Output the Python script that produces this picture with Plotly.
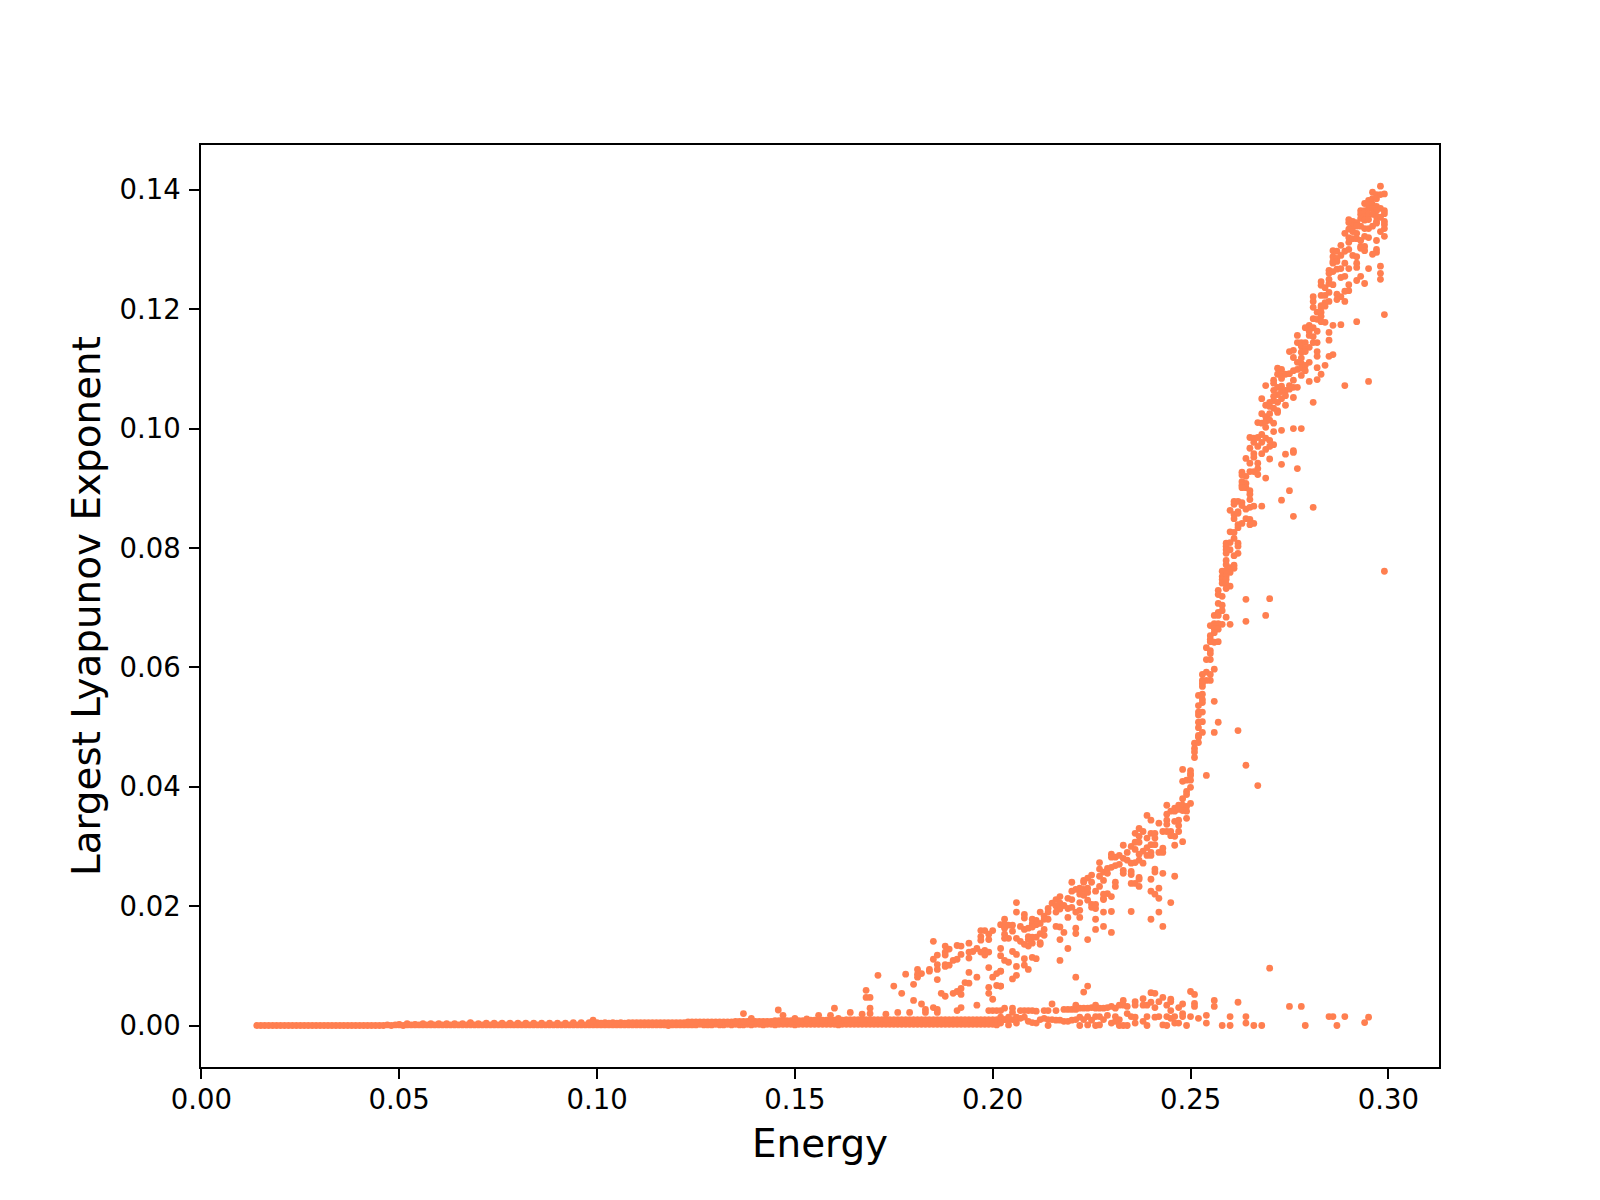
import plotly.graph_objects as go

# values as (energy, largest Lyapunov exponent)
top_band = [
    (.298,.1406),(.296,.1396),(.297,.1392),(.299,.1393),(.298,.1392),(.295,.1382),(.296,.1385),(.297,.1385),
    (.294,.1377),(.295,.1375),(.296,.1375),(.297,.1372),(.298,.1369),(.299,.1365),(.299,.1360),
    (.293,.1365),(.294,.1365),(.295,.1369),(.296,.1369),(.297,.1365),(.293,.1359),(.294,.1355),(.295,.1359),
    (.296,.1359),(.297,.1355),(.298,.1354),(.293,.1352),(.294,.1349),(.295,.1350),(.297,.1347),(.299,.1347),
    (.299,.1342),(.299,.1335),(.298,.1330),(.299,.1322),(.290,.1350),(.291,.1347),(.292,.1345),(.290,.1345),
    (.293,.1339),(.294,.1335),(.295,.1335),(.296,.1339),(.297,.1344),(.291,.1339),(.292,.1339),(.290,.1334),
    (.289,.1327),(.291,.1330),(.292,.1327),(.290,.1320),(.291,.1318),(.292,.1318),(.293,.1315),(.290,.1312),
    (.294,.1322),(.295,.1320),(.297,.1315),(.288,.1307),(.293,.1305),(.294,.1305),(.294,.1298),(.293,.1302),
    (.297,.1300),(.297,.1295),(.296,.1292),(.286,.1298),(.287,.1297),(.290,.1300),(.289,.1297),(.288,.1290),
    (.286,.1288),(.287,.1285),(.291,.1290),(.292,.1288),(.286,.1280),(.287,.1280),(.289,.1277),(.286,.1277),
    (.292,.1277),(.292,.1270),(.290,.1268),(.295,.1268),(.298,.1272),(.298,.1260),(.298,.1250),(.285,.1265),
    (.286,.1263),(.287,.1267),(.288,.1268),(.285,.1260),(.289,.1255),(.288,.1253),(.293,.1255),(.292,.1248),
    (.294,.1243),(.283,.1246),(.285,.1250),(.283,.1240),(.284,.1236),(.286,.1241),(.285,.1243),(.290,.1241),
    (.290,.1231),(.289,.1230),(.281,.1221),(.281,.1213),(.281,.1203),(.283,.1223),(.285,.1228),(.284,.1223),
    (.287,.1225),(.288,.1221),(.287,.1216),(.285,.1213),(.289,.1213),(.284,.1211),(.283,.1206),(.284,.1205),
    (.283,.1203),(.282,.1195),(.283,.1195),(.283,.1188),(.281,.1184),(.282,.1183),(.283,.1179),(.284,.1178),
    (.286,.1173),(.288,.1174),(.292,.1179),(.299,.1191),(.280,.1173),(.279,.1169),(.281,.1169),(.280,.1163),
    (.282,.1163),(.285,.1161),(.277,.1156),(.280,.1156),(.281,.1154),(.277,.1144),(.278,.1144),(.279,.1144),
    (.281,.1144),(.282,.1144),(.285,.1148),(.278,.1138),(.279,.1134),(.280,.1136),(.275,.1129),(.276,.1131),
    (.278,.1128),(.279,.1129),(.282,.1129),(.282,.1121),(.285,.1121),(.286,.1124),(.276,.1119),(.278,.1118),
    (.280,.1111),(.278,.1109),(.277,.1111),(.279,.1106),(.282,.1102),(.284,.1106),(.272,.1101),(.273,.1099),
    (.277,.1099),(.278,.1101),(.276,.1097),(.279,.1097),(.272,.1091),(.273,.1089),(.274,.1091),(.275,.1092),
    (.278,.1089),(.283,.1091),(.273,.1084),(.276,.1081),(.271,.1081),(.280,.1079),(.282,.1082),(.295,.1079),
    (.289,.1072),(.269,.1072),(.271,.1076),(.272,.1069),(.273,.1071),(.275,.1072),(.276,.1069),(.277,.1069),
    (.271,.1064),(.273,.1062),(.274,.1064),(.275,.1066),(.272,.1057),(.274,.1055),(.276,.1052),(.268,.1050),
    (.271,.1054),(.273,.1050),(.281,.1044),(.271,.1047),(.270,.1044),(.272,.1044),(.274,.1039),(.269,.1039),
    (.270,.1037),(.271,.1034),(.272,.1030),(.272,.1027),(.268,.1025),(.269,.1020),(.270,.1025),(.267,.1010),
    (.268,.1009),(.269,.1012),(.270,.1014),(.271,.1009),(.269,.1002),(.271,.0995),(.273,.0997),(.276,.1000),
    (.278,.1000),(.268,.0990),(.265,.0985),(.266,.0984),(.267,.0985),(.269,.0984),(.266,.0977),(.268,.0977),
    (.270,.0980),(.271,.0973),(.270,.0970),(.265,.0967),(.267,.0970),(.269,.0965),(.268,.0958),(.266,.0958),
    (.274,.0957),(.276,.0963),(.276,.0960),(.264,.0950),(.266,.0952),(.270,.0949),
]

steep_rise = [
    (.265,.0942),(.267,.0942),(.273,.0940),(.277,.0933),(.267,.0933),(.265,.0928),(.266,.0928),(.267,.0923),
    (.263,.0927),(.264,.0920),(.263,.0922),(.269,.0917),(.263,.0911),(.264,.0908),(.263,.0905),(.264,.0901),
    (.263,.0901),(.265,.0896),(.265,.0890),(.265,.0881),(.275,.0896),(.273,.0880),(.261,.0878),(.262,.0878),
    (.263,.0876),(.261,.0873),(.263,.0871),(.260,.0863),(.262,.0861),(.264,.0865),(.265,.0868),(.266,.0870),
    (.268,.0870),(.281,.0868),(.261,.0856),(.262,.0858),(.261,.0849),(.264,.0849),(.265,.0848),(.276,.0853),
    (.263,.0841),(.262,.0839),(.265,.0839),(.266,.0841),(.262,.0834),(.260,.0827),(.261,.0826),(.261,.0816),
    (.259,.0808),(.260,.0809),(.262,.0808),(.259,.0803),(.262,.0803),(.260,.0797),(.259,.0797),(.259,.0791),
    (.262,.0791),(.261,.0787),(.259,.0779),(.259,.0772),(.261,.0771),(.260,.0767),(.261,.0766),(.258,.0761),
    (.259,.0762),(.260,.0759),(.299,.0761),(.258,.0752),(.259,.0752),(.258,.0747),(.259,.0747),(.258,.0741),
    (.259,.0739),(.260,.0736),(.259,.0732),(.257,.0729),(.257,.0722),(.258,.0719),(.264,.0714),(.270,.0715),
    (.257,.0707),(.258,.0704),(.258,.0695),(.257,.0692),(.256,.0687),(.257,.0687),(.259,.0684),(.269,.0687),
    (.264,.0677),(.256,.0673),(.255,.0670),(.257,.0673),(.258,.0672),(.260,.0672),(.256,.0665),(.257,.0664),
    (.256,.0658),(.255,.0653),(.255,.0647),(.255,.0643),(.256,.0642),(.257,.0643),(.254,.0633),(.255,.0628),
    (.255,.0623),(.254,.0613),(.255,.0613),(.256,.0597),(.254,.0592),(.253,.0588),(.255,.0588),(.253,.0578),
    (.255,.0578),(.254,.0578),(.253,.0573),(.253,.0568),(.252,.0553),(.253,.0555),(.253,.0546),(.253,.0541),
    (.256,.0543),(.252,.0536),(.252,.0525),(.253,.0525),(.252,.0520),(.253,.0509),(.252,.0508),(.257,.0508),
    (.252,.0499),(.256,.0491),(.253,.0491),(.262,.0494),(.252,.0486),(.252,.0483),(.251,.0473),(.252,.0474),
    (.251,.0464),(.251,.0458),(.251,.0449),
]

knee_band = [
    (.248,.0429),(.250,.0427),(.250,.0422),(.250,.0419),(.254,.0419),(.264,.0436),(.267,.0402),(.248,.0409),
    (.249,.0411),(.250,.0411),(.250,.0399),(.249,.0392),(.249,.0387),(.248,.0380),(.244,.0369),(.250,.0372),
    (.247,.0369),(.248,.0369),(.249,.0367),(.246,.0364),(.245,.0359),(.244,.0354),(.246,.0359),(.247,.0362),
    (.248,.0360),(.249,.0359),(.239,.0352),(.240,.0344),(.249,.0347),(.242,.0339),(.244,.0344),(.246,.0342),
    (.247,.0344),(.244,.0337),(.247,.0335),(.237,.0330),(.236,.0322),(.238,.0325),(.240,.0322),(.241,.0322),
    (.243,.0325),(.244,.0325),(.245,.0325),(.247,.0325),(.245,.0318),(.246,.0317),(.237,.0317),(.239,.0314),
    (.241,.0314),(.236,.0307),(.237,.0307),(.235,.0300),(.236,.0295),(.240,.0303),(.241,.0303),(.248,.0308),
    (.246,.0302),(.233,.0302),(.243,.0297),(.234,.0290),(.239,.0298),(.238,.0292),(.242,.0290),(.243,.0290),
    (.237,.0287),(.239,.0285),(.240,.0285),(.240,.0290),(.230,.0287),(.230,.0282),(.231,.0282),(.232,.0285),
    (.233,.0280),(.234,.0277),(.227,.0273),(.235,.0272),(.236,.0273),(.237,.0277),(.238,.0272),(.232,.0270),
    (.231,.0268),(.230,.0265),(.229,.0263),(.227,.0262),(.228,.0257),(.229,.0255),(.227,.0250),(.233,.0260),
    (.233,.0255),(.235,.0258),(.235,.0253),(.241,.0262),(.241,.0257),(.243,.0255),(.246,.0250),(.237,.0248),
    (.237,.0245),(.240,.0245),(.228,.0243),(.220,.0240),(.225,.0252),(.224,.0247),(.223,.0243),(.223,.0240),
    (.225,.0240),(.231,.0240),(.231,.0233),(.235,.0238),(.236,.0238),(.237,.0233),(.227,.0233),(.242,.0230),
    (.240,.0225),(.241,.0220),(.242,.0213),(.245,.0206),(.220,.0225),(.221,.0228),(.222,.0230),(.223,.0228),
    (.224,.0230),(.226,.0225),(.229,.0221),(.228,.0220),(.228,.0213),(.230,.0216),(.217,.0216),(.216,.0211),
    (.219,.0213),(.220,.0211),(.222,.0220),(.223,.0218),(.224,.0223),(.222,.0206),(.224,.0210),(.225,.0203),
    (.226,.0203),(.225,.0198),(.226,.0196),(.228,.0211),(.215,.0205),(.217,.0205),(.218,.0201),(.216,.0200),
    (.217,.0195),(.219,.0196),(.220,.0198),(.216,.0190),(.222,.0193),(.221,.0190),(.228,.0190),(.230,.0191),
    (.235,.0191),(.242,.0190),(.206,.0206),(.206,.0190),(.208,.0186),(.208,.0180),(.212,.0190),(.214,.0196),
    (.214,.0190),(.213,.0183),(.214,.0178),(.213,.0178),(.219,.0181),(.222,.0181),(.226,.0178),(.240,.0178),
    (.203,.0178),(.210,.0178),(.211,.0176),(.210,.0171),(.211,.0169),(.212,.0171),(.208,.0161),(.207,.0166),
    (.209,.0163),(.210,.0165),(.216,.0166),(.217,.0165),(.218,.0156),(.221,.0163),(.221,.0154),(.226,.0161),
    (.228,.0166),(.230,.0156),(.243,.0166),(.202,.0169),(.203,.0169),(.204,.0168),(.205,.0168),(.203,.0163),
    (.205,.0158),(.203,.0153),(.204,.0146),(.203,.0146),(.213,.0161),(.212,.0154),(.213,.0151),(.209,.0149),
    (.210,.0148),(.209,.0144),(.211,.0148),(.206,.0146),(.207,.0141),(.208,.0136),(.209,.0133),(.210,.0138),
    (.212,.0139),(.212,.0136),(.217,.0144),(.224,.0144),(.205,.0124),(.206,.0119),(.202,.0129),(.202,.0117),
    (.203,.0109),(.204,.0106),(.208,.0112),(.210,.0114),(.211,.0112),(.219,.0129),(.217,.0109),(.206,.0099),
    (.208,.0101),(.209,.0094),(.202,.0091),(.206,.0084),(.205,.0078),(.202,.0066),(.221,.0081),(.224,.0066),
    (.223,.0056),(.270,.0096),
]

onset_scatter = [
    (.171,.0084),(.168,.0059),(.168,.0047),(.169,.0047),(.169,.0029),(.160,.0029),(.175,.0066),(.178,.0086),
    (.177,.0054),(.180,.0069),(.180,.0042),(.182,.0036),(.181,.0094),(.181,.0086),(.182,.0087),(.181,.0081),
    (.184,.0094),(.184,.0091),(.183,.0027),(.183,.0022),(.185,.0141),(.186,.0118),(.185,.0111),(.186,.0102),
    (.186,.0094),(.186,.0077),(.185,.0030),(.186,.0027),(.186,.0022),(.188,.0133),(.188,.0123),(.188,.0118),
    (.189,.0128),(.188,.0102),(.188,.0099),(.189,.0101),(.190,.0109),(.191,.0111),(.191,.0134),(.192,.0133),
    (.192,.0119),(.194,.0138),(.194,.0123),(.194,.0113),(.195,.0124),(.196,.0129),(.197,.0123),(.198,.0126),
    (.198,.0118),(.199,.0123),(.197,.0159),(.198,.0159),(.200,.0159),(.197,.0149),(.197,.0143),(.199,.0153),
    (.199,.0144),(.187,.0054),(.188,.0049),(.190,.0054),(.191,.0057),(.192,.0062),(.192,.0052),(.193,.0072),
    (.194,.0071),(.194,.0089),(.196,.0081),(.191,.0025),(.192,.0030),(.196,.0034),(.199,.0097),(.200,.0081),
    (.201,.0087),(.202,.0091),(.199,.0064),(.199,.0054),(.200,.0044),(.201,.0067),(.202,.0066),(.199,.0025),
    (.200,.0025),(.201,.0025),(.202,.0025),
    (.156,.0017),(.159,.0017),(.161,.0012),(.164,.0022),(.167,.0019),(.169,.0020),(.173,.0019),(.176,.0022),
    (.179,.0022),(.137,.0020),(.1458,.0026),(.147,.0017),(.139,.0012),(.150,.0012),(.153,.0011),(.099,.0009),
    (.068,.0005),
]

upper_branch = [
    (.203,.0029),(.205,.0029),(.205,.0022),(.207,.0025),(.208,.0025),(.209,.0025),(.210,.0025),(.211,.0024),
    (.213,.0025),(.214,.0025),(.215,.0036),(.216,.0025),(.218,.0027),(.219,.0027),(.220,.0027),(.221,.0034),
    (.221,.0027),(.222,.0029),(.223,.0029),(.224,.0029),(.225,.0030),(.226,.0034),(.226,.0029),(.227,.0029),
    (.228,.0029),(.229,.0030),(.230,.0032),(.231,.0029),(.232,.0034),(.233,.0042),(.233,.0034),(.234,.0032),
    (.236,.0040),(.236,.0034),(.238,.0045),(.238,.0034),(.239,.0034),(.240,.0055),(.240,.0039),(.241,.0054),
    (.241,.0030),(.242,.0040),(.243,.0047),(.244,.0034),(.245,.0044),(.245,.0040),(.245,.0025),(.247,.0030),
    (.248,.0036),(.250,.0057),(.251,.0052),(.251,.0037),(.251,.0032),(.256,.0042),(.256,.0032),(.262,.0039),
    (.275,.0032),(.278,.0032),
]

lower_branch = [
    (.202,.0014),(.203,.0010),(.204,.0014),(.205,.0010),(.206,.0014),(.207,.0012),(.208,.0014),(.209,.0007),
    (.210,.0005),(.211,.0004),(.212,.0010),(.213,.0012),(.214,.0010),(.215,.0010),(.216,.0009),(.217,.0009),
    (.218,.0007),(.219,.0007),(.220,.0009),(.221,.0010),(.222,.0014),(.223,.0010),(.224,.0015),(.225,.0009),
    (.226,.0015),(.227,.0015),(.228,.0010),(.229,.0017),(.231,.0015),(.232,.0010),(.234,.0020),(.235,.0015),
    (.236,.0014),(.202,.0004),(.204,.0001),(.206,.0004),(.214,.0),(.222,.0),(.224,.0001),(.226,.0),
    (.227,.0001),(.230,.0004),(.231,.0007),(.232,.0),(.233,.0),(.234,.0),(.236,.0004),(.238,.0007),
    (.239,.0),(.239,.0015),(.241,.0014),(.242,.0015),(.243,.0001),(.244,.0015),(.244,.0),(.245,.0012),
    (.246,.0004),(.246,.0015),(.247,.0004),(.248,.0020),(.248,.0015),(.249,.0),(.250,.0015),(.252,.0012),
    (.254,.0017),(.254,.0004),(.258,.0),(.260,.0015),(.260,.0),(.264,.0015),(.264,.0004),(.266,.0),
    (.268,.0),(.279,.0),(.285,.0015),(.286,.0015),(.287,.0),(.289,.0015),(.294,.0005),(.295,.0014),
]

strip_low_x = [
    .014,.015,.016,.017,.018,.019,.020,.021,.022,.023,.024,.025,.026,.027,.028,.029,.030,.031,.032,.033,
    .034,.035,.036,.037,.038,.039,.040,.041,.042,.043,.044,.045,.046,.047,.048,.049,.050,.051,.052,.053,
    .054,.055,.056,.057,.058,.059,.060,.061,.062,.063,.064,.065,.066,.067,.068,.069,.070,.071,.072,.073,
    .074,.075,.076,.077,.078,.079,.080,.081,.082,.083,.084,.085,.086,.087,.088,.089,.090,.091,.092,.093,
    .094,.095,.096,.097,.098,.099,.100,.101,.102,.103,.104,.105,.106,.107,.108,.109,.110,.111,.112,.113,
    .114,.115,.116,.117,.118,.119,.120,.121,.122,.123,.124,.125,.126,.127,.128,.129,.130,.131,.132,.133,
    .134,.135,.136,.137,.138,.139,.140,.141,.142,.143,.144,.145,.146,.147,.148,.149,.150,.151,.152,.153,
    .154,.155,.156,.157,.158,.159,.160,.161,.162,.163,.164,.165,.166,.167,.168,.169,.170,.171,.172,.173,
    .174,.175,.176,.177,.178,.179,.180,.181,.182,.183,.184,.185,.186,.187,.188,.189,.190,.191,.192,.193,
    .194,.195,.196,.197,.198,.199,.200,.201,
]
strip_low_y = [
    .0000,.0000,.0000,.0000,.0000,.0000,.0000,.0000,.0000,.0000,.0000,.0000,.0000,.0000,.0000,.0000,.0000,.0000,.0000,.0000,
    .0000,.0000,.0000,.0000,.0000,.0000,.0000,.0000,.0000,.0000,.0000,.0000,.0000,.0001,.0000,.0001,.0001,.0000,.0001,.0001,
    .0001,.0001,.0001,.0001,.0001,.0001,.0001,.0001,.0001,.0001,.0001,.0001,.0001,.0001,.0001,.0001,.0001,.0001,.0001,.0001,
    .0001,.0001,.0001,.0001,.0001,.0001,.0001,.0001,.0001,.0001,.0001,.0001,.0001,.0001,.0001,.0001,.0001,.0001,.0001,.0001,
    .0001,.0001,.0001,.0001,.0001,.0001,.0001,.0001,.0001,.0001,.0001,.0001,.0001,.0001,.0001,.0001,.0001,.0001,.0001,.0001,
    .0001,.0001,.0001,.0001,.0000,.0001,.0001,.0001,.0001,.0001,.0001,.0001,.0002,.0001,.0001,.0001,.0002,.0001,.0001,.0002,
    .0001,.0002,.0001,.0001,.0002,.0001,.0002,.0002,.0001,.0002,.0002,.0001,.0002,.0002,.0002,.0002,.0001,.0002,.0002,.0002,
    .0002,.0002,.0002,.0002,.0002,.0002,.0002,.0001,.0002,.0002,.0002,.0002,.0002,.0002,.0002,.0002,.0002,.0002,.0002,.0002,
    .0002,.0002,.0002,.0002,.0002,.0002,.0002,.0002,.0002,.0002,.0002,.0002,.0002,.0002,.0002,.0002,.0002,.0002,.0002,.0002,
    .0002,.0002,.0002,.0002,.0002,.0002,.0002,.0001,
]

strip_top_x = [
    .050,.052,.054,.056,.058,.060,.062,.064,.066,.068,.070,.072,.074,.076,.078,.080,.082,.084,.086,.088,
    .090,.092,.094,.096,.098,.100,.102,.104,.106,.108,.110,.112,.114,.116,.118,.120,.122,.124,.126,.128,
    .130,.132,.134,.136,.138,.140,.142,.144,.146,.148,.150,.152,.154,.156,.158,.160,.162,.164,.166,.168,
    .170,.172,.174,.176,.178,.180,.182,.184,.186,.188,.190,.192,.194,.196,.198,.200,.202,.204,
]
strip_top_y = [
    .0002,.0003,.0002,.0003,.0003,.0003,.0003,.0003,.0003,.0004,.0003,.0004,.0004,.0004,.0004,.0004,.0004,.0004,.0004,.0004,
    .0004,.0004,.0005,.0005,.0005,.0005,.0005,.0005,.0005,.0005,.0005,.0005,.0005,.0005,.0005,.0005,.0005,.0006,.0006,.0006,
    .0006,.0006,.0006,.0007,.0007,.0007,.0007,.0007,.0008,.0008,.0008,.0008,.0009,.0009,.0009,.0009,.0009,.0010,.0010,.0010,
    .0010,.0010,.0010,.0010,.0010,.0010,.0010,.0010,.0010,.0010,.0010,.0010,.0010,.0010,.0010,.0010,.0010,.0010,
]

strip_mid_x = [
    .101,.103,.105,.107,.109,.111,.113,.115,.117,.119,.121,.123,.125,.127,.129,.131,.133,.135,.137,.139,
    .141,.143,.145,.147,.149,.151,.153,.155,.157,.159,.161,.163,.165,.167,.169,.171,.173,.175,.177,.179,
    .181,.183,.185,.187,.189,.191,.193,.195,.197,.199,.201,.203,
]
strip_mid_y = [
    .0004,.0004,.0004,.0004,.0005,.0005,.0005,.0005,.0005,.0005,.0005,.0006,.0006,.0006,.0006,.0006,.0006,.0007,.0007,.0007,
    .0007,.0007,.0008,.0008,.0008,.0008,.0009,.0009,.0009,.0009,.0009,.0010,.0010,.0010,.0010,.0010,.0010,.0010,.0010,.0010,
    .0010,.0010,.0010,.0010,.0010,.0010,.0010,.0010,.0010,.0010,.0010,.0010,
]

x_ticks = [0.0, 0.05, 0.10, 0.15, 0.20, 0.25, 0.30]
x_labels = ["0.00", "0.05", "0.10", "0.15", "0.20", "0.25", "0.30"]
y_ticks = [0.0, 0.02, 0.04, 0.06, 0.08, 0.10, 0.12, 0.14]
y_labels = ["0.00", "0.02", "0.04", "0.06", "0.08", "0.10", "0.12", "0.14"]

COLOR = "#FF7F50"
FONT = "DejaVu Sans"

fig = go.Figure()

fig.add_trace(go.Scatter(x=strip_low_x, y=strip_low_y, mode="markers"))
fig.add_trace(go.Scatter(x=strip_top_x, y=strip_top_y, mode="markers"))
fig.add_trace(go.Scatter(x=strip_mid_x, y=strip_mid_y, mode="markers"))
for group in [top_band, steep_rise, knee_band, onset_scatter, upper_branch, lower_branch]:
    fig.add_trace(go.Scatter(x=[p[0] for p in group], y=[p[1] for p in group], mode="markers"))

fig.update_traces(marker=dict(color=COLOR, size=6.8, line=dict(width=0)))

axis_style = dict(
    showgrid=False,
    zeroline=False,
    showline=True,
    mirror=True,
    linecolor="black",
    linewidth=2.2,
    ticks="outside",
    ticklen=9.7,
    tickwidth=2.2,
    tickcolor="black",
    tickfont=dict(family=FONT, size=27.5, color="black"),
)

fig.update_xaxes(
    axis_style,
    range=[-0.0001, 0.3128],
    tickvals=x_ticks,
    ticktext=x_labels,
    ticklabelstandoff=-3,
    title=dict(text="Energy", font=dict(family=FONT, size=38.9, color="black"), standoff=16),
)
fig.update_yaxes(
    axis_style,
    range=[-0.00695, 0.1475],
    tickvals=y_ticks,
    ticktext=y_labels,
    ticklabelstandoff=3,
    title=dict(text="Largest Lyapunov Exponent", font=dict(family=FONT, size=38.9, color="black"), standoff=7),
)

fig.update_layout(
    width=1600,
    height=1200,
    autosize=False,
    margin=dict(l=201, r=161, t=145, b=133, pad=0),
    paper_bgcolor="white",
    plot_bgcolor="white",
    showlegend=False,
)

fig.write_html(
    "out.html",
    config={"displayModeBar": False},
    post_script="document.body.style.margin='0';document.body.style.overflow='hidden';",
)
